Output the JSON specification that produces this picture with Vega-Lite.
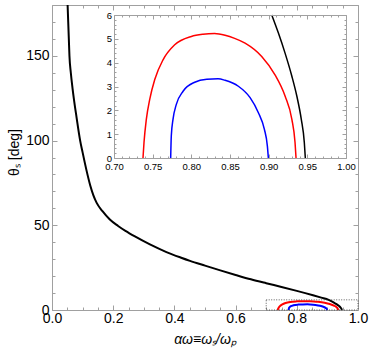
{
  "$schema": "https://vega.github.io/schema/vega-lite/v6.json",
  "width": 306,
  "height": 305,
  "autosize": {"type": "none"},
  "padding": {"left": 52, "top": 5, "right": 16, "bottom": 47},
  "background": "white",
  "config": {
    "view": {"stroke": null},
    "axis": {
      "labelFont": "Liberation Sans",
      "titleFont": "Liberation Sans",
      "domainColor": "#a0a0a0",
      "tickColor": "#a0a0a0",
      "labelColor": "#000000",
      "titleColor": "#000000",
      "grid": false,
      "labelFlush": false,
      "labelOverlap": false,
      "titleFontWeight": "normal"
    }
  },
  "datasets": {
    "curves": [
      {"a": 0.051, "theta": 180, "s": "k"},
      {"a": 0.053, "theta": 170, "s": "k"},
      {"a": 0.055, "theta": 160, "s": "k"},
      {"a": 0.057, "theta": 150, "s": "k"},
      {"a": 0.0615, "theta": 140, "s": "k"},
      {"a": 0.067, "theta": 131, "s": "k"},
      {"a": 0.0727, "theta": 123, "s": "k"},
      {"a": 0.08, "theta": 114, "s": "k"},
      {"a": 0.092, "theta": 100, "s": "k"},
      {"a": 0.1, "theta": 93, "s": "k"},
      {"a": 0.112, "theta": 83, "s": "k"},
      {"a": 0.125, "theta": 73.5, "s": "k"},
      {"a": 0.135, "theta": 67.8, "s": "k"},
      {"a": 0.146, "theta": 63.2, "s": "k"},
      {"a": 0.165, "theta": 58.3, "s": "k"},
      {"a": 0.189, "theta": 53.4, "s": "k"},
      {"a": 0.216, "theta": 49.6, "s": "k"},
      {"a": 0.24, "theta": 46.7, "s": "k"},
      {"a": 0.271, "theta": 43.4, "s": "k"},
      {"a": 0.32, "theta": 38.7, "s": "k"},
      {"a": 0.374, "theta": 34.2, "s": "k"},
      {"a": 0.42, "theta": 31, "s": "k"},
      {"a": 0.451, "theta": 29, "s": "k"},
      {"a": 0.5, "theta": 26.2, "s": "k"},
      {"a": 0.55, "theta": 23.4, "s": "k"},
      {"a": 0.6, "theta": 20.7, "s": "k"},
      {"a": 0.65, "theta": 18.1, "s": "k"},
      {"a": 0.7, "theta": 15.8, "s": "k"},
      {"a": 0.75, "theta": 13.6, "s": "k"},
      {"a": 0.8, "theta": 11.3, "s": "k"},
      {"a": 0.853, "theta": 8.7, "s": "k"},
      {"a": 0.88, "theta": 7.3, "s": "k"},
      {"a": 0.904, "theta": 6.0, "s": "k"},
      {"a": 0.9126, "theta": 5.24, "s": "k"},
      {"a": 0.9212, "theta": 4.4, "s": "k"},
      {"a": 0.93, "theta": 3.43, "s": "k"},
      {"a": 0.9364, "theta": 2.6, "s": "k"},
      {"a": 0.9422, "theta": 1.62, "s": "k"},
      {"a": 0.9461, "theta": 0.65, "s": "k"},
      {"a": 0.9474, "theta": 0, "s": "k"},
      {"a": 0.7375, "theta": 0, "s": "r"},
      {"a": 0.7388, "theta": 0.65, "s": "r"},
      {"a": 0.7418, "theta": 1.62, "s": "r"},
      {"a": 0.7462, "theta": 2.46, "s": "r"},
      {"a": 0.7527, "theta": 3.29, "s": "r"},
      {"a": 0.7634, "theta": 4.12, "s": "r"},
      {"a": 0.7785, "theta": 4.75, "s": "r"},
      {"a": 0.8, "theta": 5.1, "s": "r"},
      {"a": 0.815, "theta": 5.19, "s": "r"},
      {"a": 0.83, "theta": 5.22, "s": "r"},
      {"a": 0.8436, "theta": 5.15, "s": "r"},
      {"a": 0.856, "theta": 5.02, "s": "r"},
      {"a": 0.8695, "theta": 4.82, "s": "r"},
      {"a": 0.891, "theta": 4.26, "s": "r"},
      {"a": 0.908, "theta": 3.5, "s": "r"},
      {"a": 0.9212, "theta": 2.6, "s": "r"},
      {"a": 0.93, "theta": 1.62, "s": "r"},
      {"a": 0.9341, "theta": 0.65, "s": "r"},
      {"a": 0.9354, "theta": 0, "s": "r"},
      {"a": 0.7733, "theta": 0, "s": "b"},
      {"a": 0.7741, "theta": 0.93, "s": "b"},
      {"a": 0.7763, "theta": 1.62, "s": "b"},
      {"a": 0.7806, "theta": 2.25, "s": "b"},
      {"a": 0.7893, "theta": 2.8, "s": "b"},
      {"a": 0.8044, "theta": 3.18, "s": "b"},
      {"a": 0.82, "theta": 3.3, "s": "b"},
      {"a": 0.8345, "theta": 3.32, "s": "b"},
      {"a": 0.8436, "theta": 3.26, "s": "b"},
      {"a": 0.8608, "theta": 3.01, "s": "b"},
      {"a": 0.876, "theta": 2.53, "s": "b"},
      {"a": 0.8867, "theta": 1.9, "s": "b"},
      {"a": 0.8944, "theta": 1.21, "s": "b"},
      {"a": 0.8983, "theta": 0.51, "s": "b"},
      {"a": 0.8996, "theta": 0, "s": "b"}
    ]
  },
  "resolve": {
    "scale": {"x": "independent", "y": "independent"},
    "axis": {"x": "independent", "y": "independent"}
  },
  "layer": [
    {
      "data": {"name": "curves"},
      "mark": {"type": "line", "strokeWidth": 2, "interpolate": "monotone"},
      "encoding": {
        "x": {
          "field": "a", "type": "quantitative",
          "scale": {"domain": [0, 1], "nice": false, "zero": false},
          "axis": {
            "orient": "bottom",
            "values": [0, 0.05, 0.1, 0.15, 0.2, 0.25, 0.3, 0.35, 0.4, 0.45, 0.5, 0.55, 0.6, 0.65, 0.7, 0.75, 0.8, 0.85, 0.9, 0.95, 1],
            "labelExpr": "abs(datum.value*5 - round(datum.value*5)) < 0.001 ? format(datum.value, '.1f') : ''",
            "tickSize": {"condition": {"test": "abs(datum.value*5 - round(datum.value*5)) < 0.001", "value": -5}, "value": -3},
            "labelPadding": 6,
            "labelFontSize": 14,
            "title": "αω≡ωₛ/ωₚ",
            "titleFontSize": 14,
            "titleFontStyle": "italic",
            "titleY": 22
          }
        },
        "y": {
          "field": "theta", "type": "quantitative",
          "scale": {"domain": [0, 180], "nice": false},
          "axis": {
            "orient": "left",
            "values": [0, 10, 20, 30, 40, 50, 60, 70, 80, 90, 100, 110, 120, 130, 140, 150, 160, 170, 180],
            "labelExpr": "datum.value % 50 == 0 ? datum.label : ''",
            "tickSize": {"condition": {"test": "datum.value % 50 == 0", "value": -5}, "value": -3},
            "labelPadding": 8,
            "labelFontSize": 14,
            "title": "θₛ [deg]",
            "titleFontSize": 14,
            "titleX": -38,
            "titleY": 147,
            "titleBaseline": "middle"
          }
        },
        "color": {
          "field": "s", "type": "nominal",
          "scale": {"domain": ["k", "r", "b"], "range": ["#000000", "#ff0000", "#0000ff"]},
          "legend": null
        }
      }
    },
    {
      "data": {"name": "curves"},
      "mark": {"type": "point", "opacity": 0},
      "encoding": {
        "x": {
          "field": "a", "type": "quantitative",
          "scale": {"domain": [0, 1], "nice": false, "zero": false},
          "axis": {
            "orient": "top", "labels": false, "title": null,
            "values": [0, 0.05, 0.1, 0.15, 0.2, 0.25, 0.3, 0.35, 0.4, 0.45, 0.5, 0.55, 0.6, 0.65, 0.7, 0.75, 0.8, 0.85, 0.9, 0.95, 1],
            "tickSize": {"condition": {"test": "abs(datum.value*5 - round(datum.value*5)) < 0.001", "value": -5}, "value": -3}
          }
        },
        "y": {
          "field": "theta", "type": "quantitative",
          "scale": {"domain": [0, 180], "nice": false},
          "axis": {
            "orient": "right", "labels": false, "title": null,
            "values": [0, 10, 20, 30, 40, 50, 60, 70, 80, 90, 100, 110, 120, 130, 140, 150, 160, 170, 180],
            "tickSize": {"condition": {"test": "datum.value % 50 == 0", "value": -5}, "value": -3}
          }
        }
      }
    },
    {
      "data": {"values": [{}]},
      "mark": {"type": "rect", "fillOpacity": 0, "stroke": "#333333", "strokeWidth": 0.8, "strokeDash": [1, 1.5]},
      "encoding": {
        "x": {"datum": 0.7, "type": "quantitative", "scale": {"domain": [0, 1], "nice": false, "zero": false}, "axis": null},
        "x2": {"datum": 1.0},
        "y": {"datum": 0, "type": "quantitative", "scale": {"domain": [0, 180], "nice": false}, "axis": null},
        "y2": {"datum": 6}
      }
    },
    {
      "data": {"values": [{}]},
      "mark": {"type": "rect", "fill": "white"},
      "encoding": {
        "x": {"datum": 0.7, "type": "quantitative", "scale": {"domain": [0.7, 1], "range": [62, 294], "nice": false, "zero": false}, "axis": null},
        "x2": {"datum": 1.0},
        "y": {"datum": 0, "type": "quantitative", "scale": {"domain": [0, 6], "range": [153, 10], "nice": false}, "axis": null},
        "y2": {"datum": 6}
      }
    },
    {
      "data": {"name": "curves"},
      "transform": [{"filter": "datum.theta <= 6.001 && datum.a >= 0.7"}],
      "mark": {"type": "line", "strokeWidth": 1.5, "interpolate": "monotone"},
      "encoding": {
        "x": {
          "field": "a", "type": "quantitative",
          "scale": {"domain": [0.7, 1], "range": [62, 294], "nice": false, "zero": false},
          "axis": {
            "orient": "bottom", "offset": -152, "zindex": 1, "title": null,
            "values": [0.7, 0.71, 0.72, 0.73, 0.74, 0.75, 0.76, 0.77, 0.78, 0.79, 0.8, 0.81, 0.82, 0.83, 0.84, 0.85, 0.86, 0.87, 0.88, 0.89, 0.9, 0.91, 0.92, 0.93, 0.94, 0.95, 0.96, 0.97, 0.98, 0.99, 1.0],
            "labelExpr": "abs(datum.value*20 - round(datum.value*20)) < 0.001 ? format(datum.value, '.2f') : ''",
            "tickSize": {"condition": {"test": "abs(datum.value*20 - round(datum.value*20)) < 0.001", "value": -4}, "value": -2},
            "labelPadding": 7,
            "labelFontSize": 9.5
          }
        },
        "y": {
          "field": "theta", "type": "quantitative",
          "scale": {"domain": [0, 6], "range": [153, 10], "nice": false},
          "axis": {
            "orient": "left", "offset": -62, "zindex": 1, "title": null,
            "values": [0, 0.2, 0.4, 0.6, 0.8, 1, 1.2, 1.4, 1.6, 1.8, 2, 2.2, 2.4, 2.6, 2.8, 3, 3.2, 3.4, 3.6, 3.8, 4, 4.2, 4.4, 4.6, 4.8, 5, 5.2, 5.4, 5.6, 5.8, 6],
            "labelExpr": "abs(datum.value - round(datum.value)) < 0.001 ? format(datum.value, '.0f') : ''",
            "tickSize": {"condition": {"test": "abs(datum.value - round(datum.value)) < 0.001", "value": -4}, "value": -2},
            "labelPadding": 6.5,
            "labelFontSize": 9.5
          }
        },
        "color": {
          "field": "s", "type": "nominal",
          "scale": {"domain": ["k", "r", "b"], "range": ["#000000", "#ff0000", "#0000ff"]},
          "legend": null
        }
      }
    },
    {
      "data": {"name": "curves"},
      "transform": [{"filter": "datum.theta <= 6.001 && datum.a >= 0.7"}],
      "mark": {"type": "point", "opacity": 0},
      "encoding": {
        "x": {
          "field": "a", "type": "quantitative",
          "scale": {"domain": [0.7, 1], "range": [62, 294], "nice": false, "zero": false},
          "axis": {
            "orient": "top", "offset": -10, "zindex": 1, "title": null, "labels": false,
            "values": [0.7, 0.71, 0.72, 0.73, 0.74, 0.75, 0.76, 0.77, 0.78, 0.79, 0.8, 0.81, 0.82, 0.83, 0.84, 0.85, 0.86, 0.87, 0.88, 0.89, 0.9, 0.91, 0.92, 0.93, 0.94, 0.95, 0.96, 0.97, 0.98, 0.99, 1.0],
            "tickSize": {"condition": {"test": "abs(datum.value*20 - round(datum.value*20)) < 0.001", "value": -4}, "value": -2}
          }
        },
        "y": {
          "field": "theta", "type": "quantitative",
          "scale": {"domain": [0, 6], "range": [153, 10], "nice": false},
          "axis": {
            "orient": "right", "offset": -12, "zindex": 1, "title": null, "labels": false,
            "values": [0, 0.2, 0.4, 0.6, 0.8, 1, 1.2, 1.4, 1.6, 1.8, 2, 2.2, 2.4, 2.6, 2.8, 3, 3.2, 3.4, 3.6, 3.8, 4, 4.2, 4.4, 4.6, 4.8, 5, 5.2, 5.4, 5.6, 5.8, 6],
            "tickSize": {"condition": {"test": "abs(datum.value - round(datum.value)) < 0.001", "value": -4}, "value": -2}
          }
        }
      }
    }
  ]
}
